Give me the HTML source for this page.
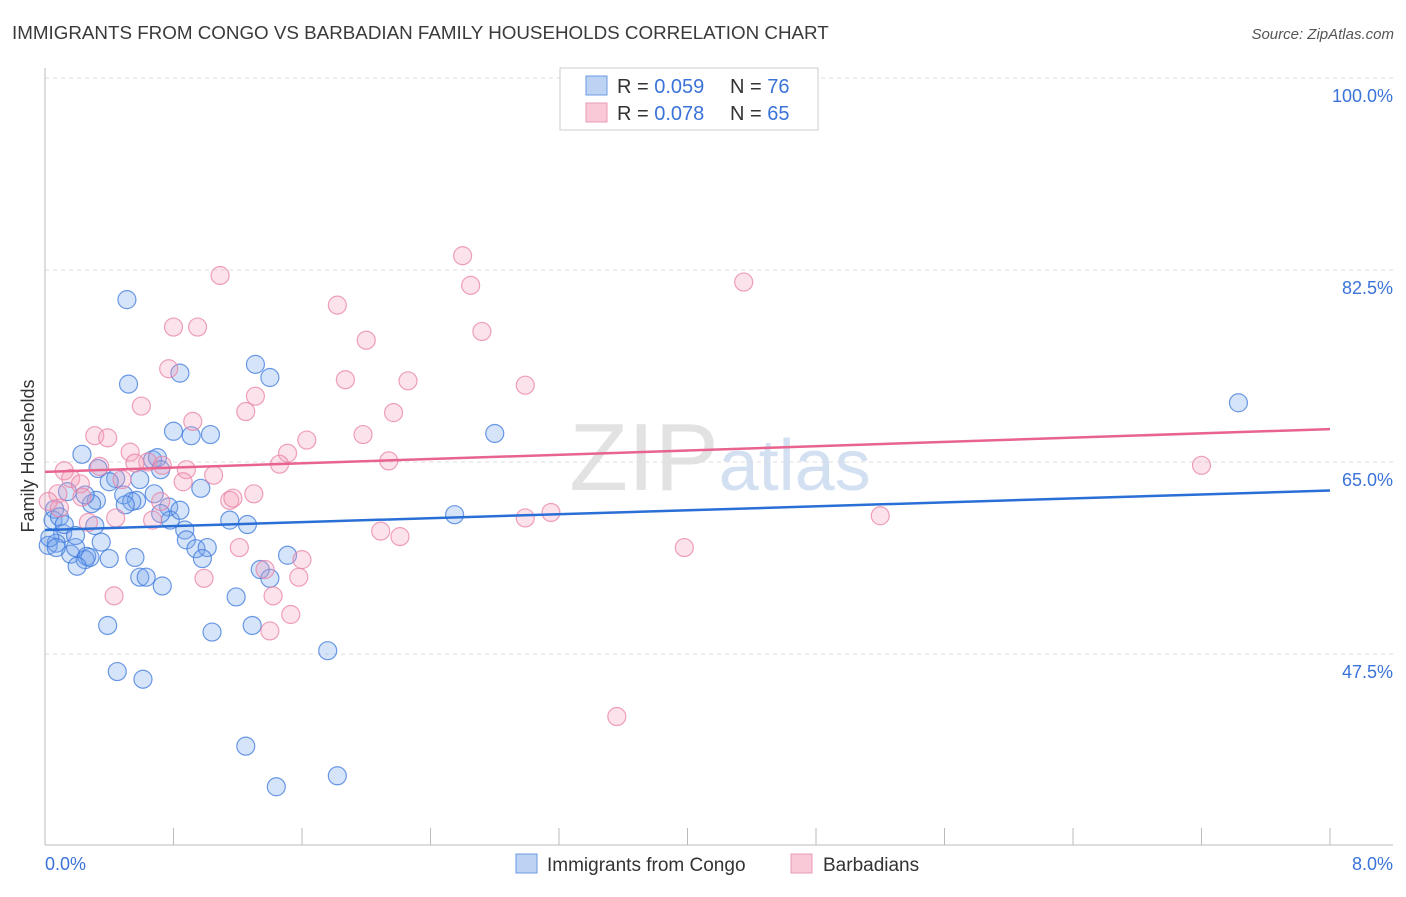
<!DOCTYPE html>
<html><head><meta charset="utf-8"><style>
body{margin:0;background:#fff;font-family:"Liberation Sans",sans-serif;}
svg text{font-family:"Liberation Sans",sans-serif;}
</style></head><body>
<svg id="chart" width="1406" height="892" xmlns="http://www.w3.org/2000/svg">
<text x="12" y="39" font-size="18.8" fill="#3a3a3a">IMMIGRANTS FROM CONGO VS BARBADIAN FAMILY HOUSEHOLDS CORRELATION CHART</text>
<text x="1394" y="39" font-size="15" fill="#555" text-anchor="end" font-style="italic">Source: ZipAtlas.com</text>
<text x="720" y="490" font-size="96" fill="#e2e2e2" text-anchor="middle" font-family="Liberation Serif">ZIP<tspan fill="#d3e0f2" font-family="Liberation Sans" font-size="72">atlas</tspan></text>
<g id="grid"></g>
<line x1="45" y1="68" x2="45" y2="845" stroke="#bbb"/>
<line x1="45" y1="845" x2="1393" y2="845" stroke="#bbb"/>
<g id="xticks"></g>
<text transform="translate(34,456) rotate(-90)" font-size="18" fill="#333" text-anchor="middle">Family Households</text>
<text x="45" y="870" font-size="18" fill="#3b73d9">0.0%</text>
<text x="1393" y="870" font-size="18" fill="#3b73d9" text-anchor="end">8.0%</text>
<g id="points"></g>
<g id="trends"></g>
<g>
<rect x="560" y="68" width="258" height="62" fill="#fff" stroke="#ccc"/>
<rect x="586" y="76" width="21" height="19" fill="#bcd3f3" stroke="#6a9be0"/>
<rect x="586" y="103" width="21" height="19" fill="#f9c9d8" stroke="#e89ab5"/>
<text x="617" y="93" font-size="20" fill="#333">R = <tspan fill="#3b73d9">0.059</tspan></text>
<text x="730" y="93" font-size="20" fill="#333">N = <tspan fill="#3b73d9">76</tspan></text>
<text x="617" y="120" font-size="20" fill="#333">R = <tspan fill="#3b73d9">0.078</tspan></text>
<text x="730" y="120" font-size="20" fill="#333">N = <tspan fill="#3b73d9">65</tspan></text>
</g>
<g>
<rect x="516" y="854" width="21" height="19" fill="#bcd3f3" stroke="#6a9be0"/>
<text x="547" y="871" font-size="19" fill="#333">Immigrants from Congo</text></g>
<g>
<rect x="791" y="854" width="21" height="19" fill="#f9c9d8" stroke="#e89ab5"/>
<text x="823" y="871" font-size="19" fill="#333">Barbadians</text></g>
</svg>
<script>
const yTicks=[100,82.5,65,47.5];
const xTickVals=[0,0.8,1.6,2.4,3.2,4,4.8,5.6,6.4,7.2,8];
const blueX=[0.51,0.52,0.84,1.31,1.40,2.80,7.43,0.23,0.80,0.91,1.03,0.33,0.44,0.40,0.67,0.70,0.97,0.14,0.32,0.49,0.57,0.54,0.68,0.77,0.78,0.72,0.29,0.06,0.05,0.11,0.31,1.26,2.55,0.02,0.07,0.16,0.19,0.35,0.26,0.25,0.28,0.40,0.56,0.87,0.88,0.94,1.01,0.98,1.51,0.20,0.59,0.63,0.73,1.34,1.40,1.19,0.39,1.04,1.29,1.76,0.45,0.61,1.25,1.82,1.44,0.09,0.03,0.59,0.50,0.07,0.12,0.25,0.19,0.84,0.72,1.15];
const blueY=[79.8,72.1,73.1,73.9,72.7,67.6,70.4,65.7,67.8,67.4,67.5,64.4,63.5,63.2,65.2,65.4,62.6,62.3,61.5,62.0,61.5,61.4,62.1,60.9,59.7,60.3,61.2,60.7,59.7,58.5,59.2,59.3,60.2,57.4,57.6,56.6,57.2,57.7,56.4,56.1,56.3,56.2,56.3,58.8,57.9,57.1,57.2,56.2,56.5,55.5,54.5,54.5,53.7,55.2,54.4,52.7,50.1,49.5,50.1,47.8,45.9,45.2,39.1,36.4,35.4,60.0,58.1,63.4,61.1,57.2,59.3,62.0,58.3,60.6,64.3,59.7];
const pinkX=[2.60,1.09,2.65,4.35,1.82,0.80,0.95,2.72,2.00,0.77,1.87,2.26,2.99,0.60,1.31,1.25,2.17,0.92,0.31,0.39,1.98,1.63,1.51,0.53,2.14,0.64,1.46,0.12,0.34,0.56,0.73,0.88,1.05,0.16,0.48,0.22,0.86,0.08,0.23,0.02,1.15,1.17,1.30,0.72,0.09,0.27,0.44,0.67,2.99,3.15,5.20,7.20,2.09,2.21,1.21,3.98,1.60,0.99,1.58,1.37,1.42,0.43,1.53,1.40,3.56];
const pinkY=[83.8,82.0,81.1,81.4,79.3,77.3,77.3,76.9,76.1,73.5,72.5,72.4,72.0,70.1,71.0,69.6,69.5,68.7,67.4,67.2,67.5,67.0,65.8,65.9,65.1,65.0,64.8,64.2,64.6,64.9,64.7,64.3,63.8,63.5,63.4,63.0,63.2,62.1,61.8,61.4,61.5,61.7,62.1,61.4,60.8,59.5,59.9,59.7,59.9,60.4,60.1,64.7,58.7,58.2,57.2,57.2,56.1,54.4,54.5,55.2,52.8,52.8,51.1,49.6,41.8];
const blueTrend=[58.8,62.4];
const pinkTrend=[64.1,68.0];
const NS='http://www.w3.org/2000/svg';
function sx(v){return 45+v/8*1285;}
function sy(v){return 462-(v-65)/17.5*192;}
function mk(tag,attrs,parent){const e=document.createElementNS(NS,tag);for(const k in attrs)e.setAttribute(k,attrs[k]);parent.appendChild(e);return e;}
const grid=document.getElementById('grid');
yTicks.forEach(t=>{
  const l=mk('line',{x1:45,x2:1393,y1:sy(t),y2:sy(t),stroke:'#ddd','stroke-dasharray':'4,4'},grid);
  
  
  const tx=mk('text',{x:1393,y:sy(t)+24,'font-size':18,fill:'#3b73d9','text-anchor':'end'},grid);
  tx.textContent=t.toFixed(1)+'%';
  
  
});
const xt=document.getElementById('xticks');
xTickVals.forEach(t=>{
  const l=mk('line',{x1:sx(t),x2:sx(t),y1:828,y2:845,stroke:'#bbb'},xt);
  
  
});
const pts=document.getElementById('points');
function drawSeries(xs,ys,fill,stroke,name){
  xs.forEach((x,i)=>{
    const c=mk('circle',{cx:sx(x),cy:sy(ys[i]),r:9,fill:fill,stroke:stroke,'stroke-width':1.2},pts);
    
    
  });
}
drawSeries(blueX,blueY,'rgba(120,165,235,0.3)','rgba(60,120,220,0.75)','congo-point');
drawSeries(pinkX,pinkY,'rgba(245,160,185,0.3)','rgba(232,130,165,0.75)','barbadian-point');
const tr=document.getElementById('trends');
const b=mk('line',{x1:sx(0),y1:sy(blueTrend[0]),x2:sx(8),y2:sy(blueTrend[1]),stroke:'#2a6fd6','stroke-width':2.5},tr);


const p=mk('line',{x1:sx(0),y1:sy(pinkTrend[0]),x2:sx(8),y2:sy(pinkTrend[1]),stroke:'#e8648f','stroke-width':2.5},tr);


</script>
</body></html>
